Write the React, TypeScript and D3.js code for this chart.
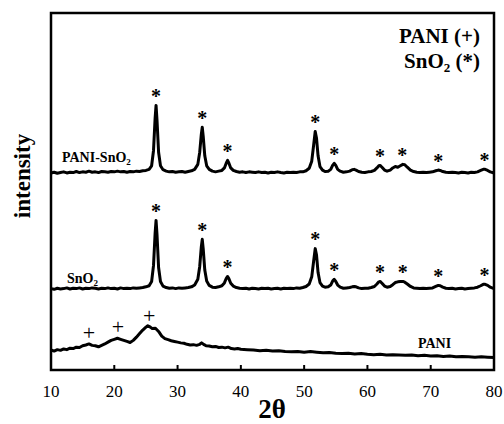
import React from 'react';
import * as d3 from 'd3';

// 2θ / intensity (a.u.), each trace has its own offset
const compositeData: [number, number][] = [
  [10, 0.2], [10.5, 0.4], [11, 0.1], [11.5, 0.3], [12, 0.5], [12.5, 0.2], [13, 0.4], [13.5, 0.3],
  [14, 0.6], [14.5, 0.3], [15, 0.5], [15.5, 0.4], [16, 0.7], [16.5, 0.4], [17, 0.5], [17.5, 0.3],
  [18, 0.6], [18.5, 0.5], [19, 0.4], [19.5, 0.6], [20, 0.5], [20.5, 0.7], [21, 0.5], [21.5, 0.6],
  [22, 0.4], [22.5, 0.6], [23, 0.5], [23.5, 0.7], [24, 0.6], [24.5, 0.8], [25, 0.9], [25.5, 1.2],
  [25.9, 2.2], [26.2, 6.5], [26.45, 15.5], [26.6, 19.1], [26.75, 15.0], [27.0, 6.0], [27.3, 2.2],
  [27.7, 1.1], [28.2, 0.7], [28.7, 0.5], [29.2, 0.6], [29.7, 0.4], [30.2, 0.5], [30.7, 0.6],
  [31.2, 0.4], [31.7, 0.6], [32.2, 0.8], [32.7, 1.2], [33.2, 2.6], [33.5, 6.0], [33.75, 11.0],
  [33.9, 13.0], [34.05, 10.5], [34.3, 5.0], [34.6, 2.2], [35, 1.2], [35.5, 0.7], [36, 0.5],
  [36.5, 0.7], [37, 0.9], [37.4, 1.6], [37.7, 3.0], [37.9, 3.7], [38.1, 3.0], [38.4, 1.6],
  [38.8, 0.9], [39.3, 0.6], [39.8, 0.4], [40.3, 0.5], [40.8, 0.3], [41.3, 0.5], [41.8, 0.4],
  [42.3, 0.3], [42.8, 0.5], [43.3, 0.3], [43.8, 0.4], [44.3, 0.2], [44.8, 0.4], [45.3, 0.3],
  [45.8, 0.5], [46.3, 0.3], [46.8, 0.2], [47.3, 0.4], [47.8, 0.3], [48.3, 0.4], [48.8, 0.3],
  [49.3, 0.5], [49.8, 0.5], [50.3, 0.8], [50.8, 1.5], [51.2, 3.5], [51.5, 8.0], [51.75, 11.8],
  [51.95, 10.0], [52.2, 5.0], [52.5, 2.0], [52.9, 1.0], [53.3, 0.6], [53.8, 0.7], [54.2, 1.2],
  [54.5, 2.3], [54.75, 2.9], [55, 2.3], [55.3, 1.2], [55.7, 0.7], [56.2, 0.4], [56.7, 0.5],
  [57.2, 0.7], [57.6, 1.1], [57.9, 1.2], [58.2, 1.0], [58.6, 0.6], [59.1, 0.4], [59.6, 0.3],
  [60.1, 0.5], [60.6, 0.6], [61.1, 0.9], [61.5, 1.6], [61.8, 2.2], [62, 2.3], [62.3, 1.8],
  [62.7, 1.0], [63.1, 0.7], [63.6, 1.0], [64, 1.6], [64.4, 2.0], [64.8, 1.8], [65.2, 2.2],
  [65.6, 2.6], [65.9, 2.5], [66.3, 1.8], [66.8, 1.0], [67.3, 0.6], [67.8, 0.4], [68.3, 0.3],
  [68.8, 0.4], [69.3, 0.3], [69.8, 0.4], [70.3, 0.5], [70.8, 0.8], [71.2, 1.0], [71.5, 0.9],
  [71.9, 0.6], [72.4, 0.4], [72.9, 0.3], [73.4, 0.4], [73.9, 0.3], [74.4, 0.2], [74.9, 0.4],
  [75.4, 0.3], [75.9, 0.2], [76.4, 0.4], [76.9, 0.3], [77.4, 0.5], [77.9, 0.9], [78.3, 1.2],
  [78.6, 1.2], [79, 0.9], [79.4, 0.5], [80, 0.2],
];

const sno2Data: [number, number][] = [
  [10, 0.3], [10.5, 0.1], [11, 0.4], [11.5, 0.2], [12, 0.3], [12.5, 0.5], [13, 0.2], [13.5, 0.4],
  [14, 0.3], [14.5, 0.5], [15, 0.2], [15.5, 0.4], [16, 0.3], [16.5, 0.5], [17, 0.4], [17.5, 0.2],
  [18, 0.4], [18.5, 0.3], [19, 0.5], [19.5, 0.3], [20, 0.4], [20.5, 0.2], [21, 0.5], [21.5, 0.3],
  [22, 0.4], [22.5, 0.3], [23, 0.5], [23.5, 0.4], [24, 0.5], [24.5, 0.6], [25, 0.8], [25.5, 1.1],
  [25.9, 2.3], [26.2, 6.8], [26.45, 15.8], [26.6, 19.4], [26.75, 15.4], [27, 6.2], [27.3, 2.3],
  [27.7, 1.0], [28.2, 0.6], [28.7, 0.4], [29.2, 0.5], [29.7, 0.3], [30.2, 0.5], [30.7, 0.4],
  [31.2, 0.5], [31.7, 0.6], [32.2, 0.8], [32.7, 1.3], [33.2, 2.9], [33.5, 6.5], [33.75, 12.0],
  [33.9, 14.1], [34.05, 11.5], [34.3, 5.5], [34.6, 2.4], [35, 1.2], [35.5, 0.7], [36, 0.6],
  [36.5, 0.8], [37, 1.1], [37.4, 1.9], [37.7, 3.2], [37.9, 3.7], [38.1, 3.1], [38.4, 1.8],
  [38.8, 1.0], [39.3, 0.6], [39.8, 0.4], [40.3, 0.3], [40.8, 0.4], [41.3, 0.2], [41.8, 0.4],
  [42.3, 0.3], [42.8, 0.2], [43.3, 0.4], [43.8, 0.3], [44.3, 0.4], [44.8, 0.2], [45.3, 0.3],
  [45.8, 0.4], [46.3, 0.2], [46.8, 0.4], [47.3, 0.3], [47.8, 0.4], [48.3, 0.3], [48.8, 0.5],
  [49.3, 0.4], [49.8, 0.6], [50.3, 0.9], [50.8, 1.6], [51.2, 3.6], [51.5, 8.0], [51.75, 11.5],
  [51.95, 9.8], [52.2, 4.8], [52.5, 2.0], [52.9, 1.0], [53.3, 0.7], [53.8, 0.8], [54.2, 1.3],
  [54.5, 2.4], [54.75, 2.9], [55, 2.3], [55.3, 1.3], [55.7, 0.7], [56.2, 0.4], [56.7, 0.5],
  [57.2, 0.6], [57.6, 0.8], [57.9, 0.9], [58.2, 0.8], [58.6, 0.5], [59.1, 0.3], [59.6, 0.4],
  [60.1, 0.4], [60.6, 0.6], [61.1, 0.9], [61.5, 1.6], [61.8, 2.2], [62, 2.3], [62.3, 1.8],
  [62.7, 1.0], [63.1, 0.7], [63.6, 0.9], [64, 1.4], [64.4, 2.0], [64.8, 2.2], [65.2, 2.3],
  [65.6, 2.3], [65.9, 2.1], [66.3, 1.6], [66.8, 0.9], [67.3, 0.5], [67.8, 0.4], [68.3, 0.3],
  [68.8, 0.4], [69.3, 0.3], [69.8, 0.4], [70.3, 0.5], [70.8, 0.9], [71.2, 1.2], [71.5, 1.1],
  [71.9, 0.7], [72.4, 0.4], [72.9, 0.3], [73.4, 0.4], [73.9, 0.2], [74.4, 0.3], [74.9, 0.4],
  [75.4, 0.2], [75.9, 0.3], [76.4, 0.4], [76.9, 0.5], [77.4, 0.7], [77.9, 1.1], [78.3, 1.5],
  [78.6, 1.5], [79, 1.2], [79.4, 0.7], [80, 0.3],
];

const paniData: [number, number][] = [
  [10, 5.6], [10.5, 5.3], [11, 5.7], [11.5, 5.5], [12, 5.9], [12.5, 5.7], [13, 6.1], [13.5, 6.0],
  [14, 6.4], [14.5, 6.3], [15, 6.8], [15.5, 7.0], [16, 7.3], [16.5, 6.9], [17, 6.8], [17.5, 6.5],
  [18, 6.9], [18.5, 7.3], [19, 7.8], [19.5, 8.3], [20, 8.6], [20.5, 8.9], [21, 8.6], [21.5, 8.3],
  [22, 8.0], [22.5, 7.7], [23, 8.3], [23.5, 9.2], [24, 10.2], [24.5, 11.2], [25, 12.0], [25.3, 12.4],
  [25.7, 12.0], [26, 11.6], [26.5, 11.7], [27, 10.8], [27.5, 9.5], [28, 8.8], [28.5, 8.5], [29, 8.2],
  [29.5, 8.0], [30, 7.8], [30.5, 7.6], [31, 7.5], [31.5, 7.2], [32, 7.0], [32.5, 7.1], [33, 6.9],
  [33.5, 7.2], [33.8, 7.6], [34.2, 7.1], [34.5, 6.8], [35, 6.7], [35.5, 6.5], [36, 6.6], [36.5, 6.3],
  [37, 6.4], [37.5, 6.2], [38, 6.4], [38.5, 6.0], [39, 5.9], [39.5, 6.0], [40, 5.8], [41, 5.7],
  [42, 5.6], [43, 5.4], [44, 5.5], [45, 5.3], [46, 5.4], [47, 5.2], [48, 5.1], [49, 5.2], [50, 5.0],
  [51, 5.2], [52, 5.0], [53, 4.8], [54, 4.9], [55, 4.7], [56, 4.6], [57, 4.7], [58, 4.5], [59, 4.6],
  [60, 4.4], [61, 4.3], [62, 4.4], [63, 4.2], [64, 4.3], [65, 4.2], [66, 4.1], [67, 4.2], [68, 4.0],
  [69, 4.1], [70, 3.9], [71, 4.0], [72, 3.8], [73, 3.9], [74, 3.7], [75, 3.8], [76, 3.7], [77, 3.6],
  [78, 3.7], [79, 3.6], [80, 3.5],
];

// vertical stacking offsets
const compositeOffset = 55;
const sno2Offset = 22.5;
const paniOffset = 0;

// reflection positions marked on the pattern
const compositeStars = [26.6, 33.9, 37.9, 51.75, 54.75, 62, 65.5, 71.2, 78.5];
const sno2Stars = [26.6, 33.9, 37.9, 51.75, 54.75, 62, 65.6, 71.2, 78.5];
const paniPlus = [16, 20.6, 25.5];

const xTicks = [10, 20, 30, 40, 50, 60, 70, 80];

const W = 504;
const H = 424;
const plotL = 51;
const plotR = 494;
const plotT = 13;
const plotB = 370;
const serif = '"Liberation Serif", serif';

const valueAt = (data: [number, number][], a: number) => {
  const i = d3.bisector((d: [number, number]) => d[0]).center(data, a);
  return data[i][1];
};

const App = () => {
  const x = d3.scaleLinear().domain([10, 80]).range([plotL, plotR]);
  const y = d3.scaleLinear().domain([0, 100]).range([plotB, plotT]);

  const series = [
    { data: compositeData, offset: compositeOffset },
    { data: sno2Data, offset: sno2Offset },
    { data: paniData, offset: paniOffset },
  ];

  const lineFor = (offset: number) =>
    d3
      .line<[number, number]>()
      .x(d => x(d[0]))
      .y(d => y(d[1] + offset));

  const stars = [
    ...compositeStars.map(a => ({ a, v: valueAt(compositeData, a) + compositeOffset })),
    ...sno2Stars.map(a => ({ a, v: valueAt(sno2Data, a) + sno2Offset })),
  ];

  const tx = { fontFamily: serif };

  return (
    <svg width={W} height={H} style={{ position: 'absolute', left: 0, top: 0, background: '#fff' }}>
      {/* frame */}
      <rect
        x={plotL}
        y={plotT}
        width={plotR - plotL}
        height={plotB - plotT}
        fill="none"
        stroke="#000"
        strokeWidth={2.5}
      />
      {xTicks.map(t => (
        <g key={'t' + t}>
          <line x1={x(t)} x2={x(t)} y1={plotB} y2={plotB - 5} stroke="#000" strokeWidth={2} />
          <text x={x(t)} y={397} textAnchor="middle" fontSize={17} style={tx}>
            {t}
          </text>
        </g>
      ))}

      {series.map((s, i) => (
        <path
          key={'l' + i}
          d={lineFor(s.offset)(s.data) || ''}
          fill="none"
          stroke="#000"
          strokeWidth={3}
          strokeLinejoin="round"
        />
      ))}

      {stars.map((s, i) => (
        <text
          key={'s' + i}
          x={x(s.a)}
          y={y(s.v) - 12 + 9.5}
          textAnchor="middle"
          fontSize={20}
          fontWeight="bold"
          style={tx}
        >
          *
        </text>
      ))}

      {paniPlus.map((a, i) => (
        <text
          key={'p' + i}
          x={x(a)}
          y={y(valueAt(paniData, a) + paniOffset) - 10 + 6}
          textAnchor="middle"
          fontSize={22}
          style={tx}
        >
          +
        </text>
      ))}

      <text x={272} y={418} textAnchor="middle" fontSize={27} fontWeight="bold" style={tx}>
        2θ
      </text>
      <text
        transform="translate(30,176) rotate(-90)"
        textAnchor="middle"
        fontSize={23}
        fontWeight="bold"
        style={tx}
      >
        intensity
      </text>

      {/* trace labels */}
      <text x={62} y={162} fontSize={14} fontWeight="bold" style={tx}>
        PANI-SnO<tspan fontSize={9} dy={3}>2</tspan>
      </text>
      <text x={67} y={283} fontSize={14} fontWeight="bold" style={tx}>
        SnO<tspan fontSize={9} dy={3}>2</tspan>
      </text>
      <text x={418} y={348} fontSize={14} fontWeight="bold" style={tx}>
        PANI
      </text>

      {/* legend */}
      <text x={480} y={43} textAnchor="end" fontSize={21} fontWeight="bold" style={tx}>
        PANI (+)
      </text>
      <text x={480} y={68} textAnchor="end" fontSize={21} fontWeight="bold" style={tx}>
        SnO<tspan fontSize={13} dy={4}>2</tspan>
        <tspan dy={-4}> (*)</tspan>
      </text>
    </svg>
  );
};

export default App;
